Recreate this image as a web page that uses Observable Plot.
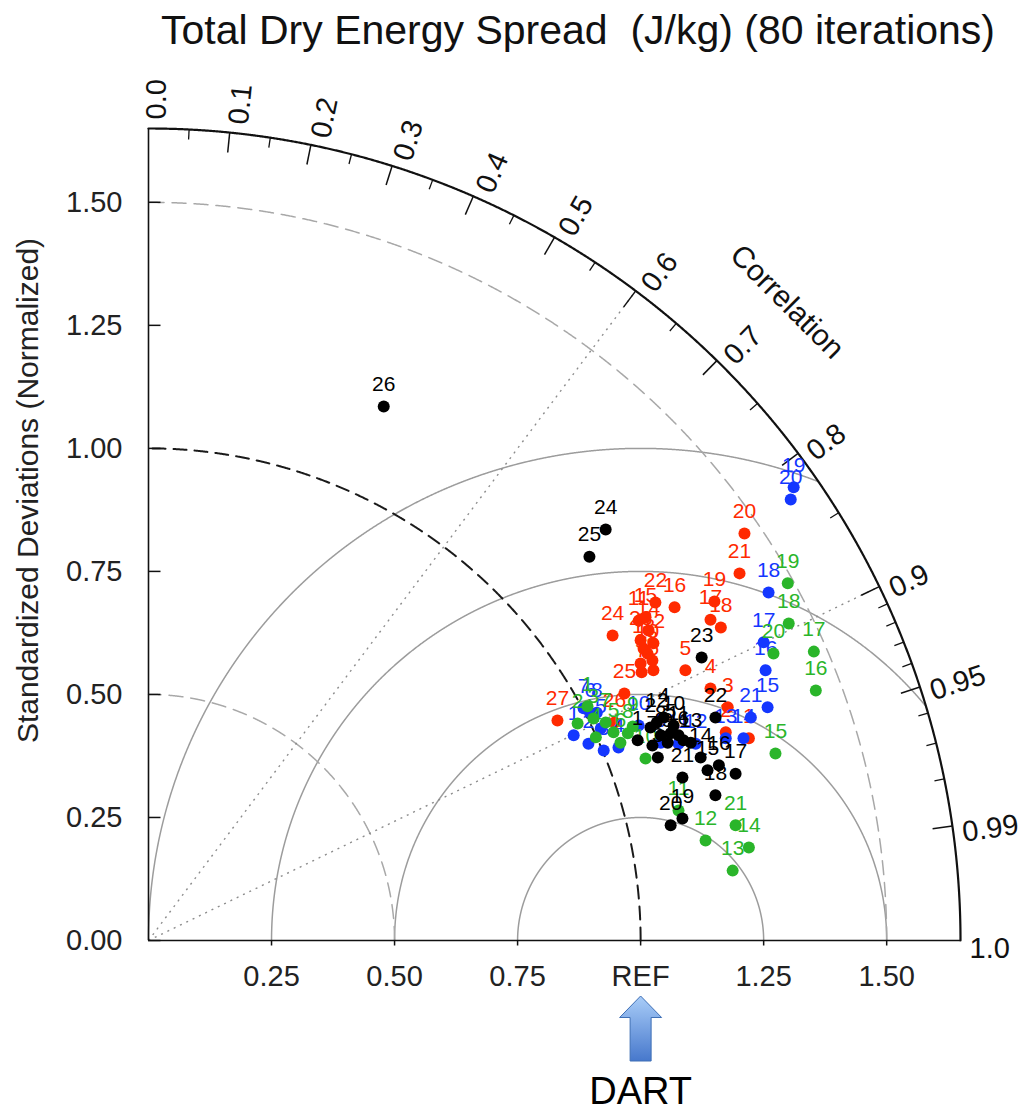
<!DOCTYPE html>
<html><head><meta charset="utf-8">
<script src="https://cdn.jsdelivr.net/npm/d3@7"></script>
<script src="https://cdn.jsdelivr.net/npm/@observablehq/plot@0.6"></script>
<style>
html,body{margin:0;padding:0;background:#fff;overflow:hidden;}
#title{height:60px;line-height:60px;font-family:"Liberation Sans",Arial,Helvetica,sans-serif;font-size:41px;color:#111;padding-left:161px;white-space:pre;}
#chart svg{display:block;}
</style></head><body>
<div id="title">Total Dry Energy Spread  (J/kg) (80 iterations)</div>
<div id="chart"></div>
<script>
// ---------- data (normalized std-dev components: x = σ·R, y = σ·√(1−R²)) ----------
const blackLabels = [1,2,3,4,5,6,7,8,9,10,11,12,13,14,15,16,17,18,19,20,21,22,23,24,25,26];
const blackX = [0.994,1.020,1.035,1.047,1.061,1.087,1.024,1.041,1.055,1.067,1.077,1.033,1.102,1.122,1.136,1.159,1.193,1.152,1.085,1.061,1.085,1.152,1.124,0.929,0.896,0.478];
const blackY = [0.407,0.433,0.372,0.453,0.421,0.407,0.396,0.417,0.402,0.437,0.417,0.443,0.402,0.372,0.346,0.356,0.339,0.295,0.248,0.234,0.331,0.453,0.575,0.835,0.780,1.085];

const redLabels = [1,2,3,4,5,6,7,8,9,10,11,12,13,14,15,16,17,18,19,20,21,22,23,24,25,26,27];
const redX = [1.220,1.173,1.177,1.142,1.091,1.026,1.002,1.024,1.000,1.014,0.996,1.026,1.006,1.016,1.010,1.069,1.142,1.163,1.150,1.211,1.201,1.030,1.000,0.943,0.967,0.947,0.831];
const redY = [0.411,0.423,0.474,0.512,0.549,0.549,0.545,0.569,0.563,0.583,0.650,0.604,0.593,0.630,0.657,0.677,0.652,0.636,0.689,0.827,0.746,0.687,0.610,0.620,0.502,0.443,0.447];

const blueLabels = [1,2,3,4,5,6,7,8,9,10,11,12,13,14,15,16,17,18,19,20,21];
const blueX = [0.864,0.894,0.925,0.955,0.919,0.898,0.884,0.911,1.041,0.996,1.077,1.112,1.173,1.209,1.258,1.254,1.250,1.260,1.311,1.305,1.224];
const blueY = [0.417,0.400,0.386,0.392,0.431,0.463,0.472,0.463,0.402,0.437,0.400,0.400,0.411,0.411,0.474,0.549,0.606,0.707,0.921,0.896,0.453];

const greenLabels = [1,2,3,4,5,6,7,8,9,10,11,12,13,14,15,16,17,18,19,20,21];
const greenX = [0.892,0.872,0.904,0.909,0.945,0.959,0.929,0.974,0.984,1.010,1.077,1.132,1.187,1.220,1.274,1.356,1.352,1.301,1.299,1.270,1.193];
const greenY = [0.476,0.441,0.451,0.413,0.423,0.402,0.443,0.421,0.435,0.370,0.264,0.203,0.142,0.189,0.380,0.508,0.587,0.644,0.726,0.583,0.234];

// ---------- axes / grid definitions ----------
const maxStd = 1.65;
const refValue = 1.0;
const yTicks = [0, 0.25, 0.5, 0.75, 1.0, 1.25, 1.5];
const xTicks = [0.25, 0.5, 0.75, 1.0, 1.25, 1.5];
const xTickLabels = ["0.25", "0.50", "0.75", "REF", "1.25", "1.50"];
const corrLabelValues = [0, 0.1, 0.2, 0.3, 0.4, 0.5, 0.6, 0.7, 0.8, 0.9, 0.95, 0.99, 1.0];
const corrLabels = ["0.0","0.1","0.2","0.3","0.4","0.5","0.6","0.7","0.8","0.9","0.95","0.99","1.0"];
const corrMajor = [0.1, 0.2, 0.3, 0.4, 0.5, 0.6, 0.7, 0.8, 0.9, 0.95, 0.99];
const corrMinor = [0.05, 0.15, 0.25, 0.35, 0.45, 0.55, 0.65, 0.75, 0.85, 0.91, 0.92, 0.93, 0.94, 0.96, 0.97, 0.98];
const stdArcs = [0.5, 1.0, 1.5];
const rmsArcs = [0.25, 0.5, 0.75, 1.0];
const corrRays = [0.6, 0.9];

const FONT = '"Liberation Sans", Arial, Helvetica, sans-serif';
const colors = {black: "#000000", red: "#ff2a00", blue: "#1437ff", green: "#2ab52a"};

const series = [
  {name: "red", labels: redLabels, x: redX, y: redY},
  {name: "blue", labels: blueLabels, x: blueX, y: blueY},
  {name: "green", labels: greenLabels, x: greenX, y: greenY},
  {name: "black", labels: blackLabels, x: blackX, y: blackY}
];

// ---------- geometry helpers ----------
const W = 1028, H = 1052;
const mL = 148, mR = 68, mT = 68, mB = 172;
const pxPerUnit = (W - mL - mR) / maxStd;
const px = (p) => p / pxPerUnit;
const sinOf = (c) => Math.sqrt(Math.max(0, 1 - c * c));

const outerPts = d3.range(0, 1201).map(i => {
  const a = i / 1200 * Math.PI / 2;
  return {x: maxStd * Math.cos(a), y: maxStd * Math.sin(a)};
});
const stdPts = stdArcs.flatMap(r => d3.range(0, 1201).map(i => {
  const a = i / 1200 * Math.PI / 2;
  return {r, x: r * Math.cos(a), y: r * Math.sin(a)};
}));
const rmsPts = rmsArcs.flatMap(r => d3.range(0, 3001).map(i => {
  const t = i / 3000 * Math.PI;
  return {r, x: refValue + r * Math.cos(t), y: r * Math.sin(t)};
}).filter(p => Math.hypot(p.x, p.y) <= maxStd));

const majorLen = px(20), minorLen = px(10), labelR = maxStd + px(9), labelShift = px(8);

const arrowSymbol = {
  draw(ctx, size) {
    const s = Math.sqrt(size / Math.PI);
    ctx.moveTo(0, -3.25 * s);
    ctx.lineTo(2.1 * s, -1.1 * s);
    ctx.lineTo(1.05 * s, -1.1 * s);
    ctx.lineTo(1.05 * s, 3.25 * s);
    ctx.lineTo(-1.05 * s, 3.25 * s);
    ctx.lineTo(-1.05 * s, -1.1 * s);
    ctx.lineTo(-2.1 * s, -1.1 * s);
    ctx.closePath();
  }
};

const pointMarks = series.flatMap(s => {
  const rows = s.labels.map((l, i) => ({label: String(l), x: s.x[i], y: s.y[i]}));
  return [
    Plot.dot(rows, {x: "x", y: "y", r: 6, fill: colors[s.name], stroke: "none"}),
    Plot.text(rows, {x: "x", y: "y", text: "label", dy: -22, fill: colors[s.name], fontSize: 21, fontFamily: FONT})
  ];
});

const chart = Plot.plot({
  width: W, height: H,
  marginLeft: mL, marginRight: mR, marginTop: mT, marginBottom: mB,
  x: {domain: [0, maxStd], axis: null},
  y: {domain: [0, maxStd], axis: null},
  style: {fontFamily: FONT, background: "white", overflow: "visible"},
  marks: [
    // centered RMS difference arcs
    Plot.line(rmsPts, {x: "x", y: "y", z: "r", stroke: "#9c9c9c", strokeWidth: 1.5}),
    // std-dev arcs
    Plot.line(stdPts.filter(d => d.r !== refValue), {x: "x", y: "y", z: "r", stroke: "#a8a8a8", strokeWidth: 1.5, strokeDasharray: "14,8"}),
    Plot.line(stdPts.filter(d => d.r === refValue), {x: "x", y: "y", z: "r", stroke: "#1a1a1a", strokeWidth: 2, strokeDasharray: "13,8"}),
    // correlation rays
    Plot.link(corrRays, {x1: 0, y1: 0, x2: c => maxStd * c, y2: c => maxStd * sinOf(c), stroke: "#8c8c8c", strokeWidth: 1.4, strokeDasharray: "2,5"}),
    // axis lines
    Plot.ruleX([0], {y1: 0, y2: maxStd, stroke: "#111", strokeWidth: 1.6}),
    Plot.ruleY([0], {x1: 0, x2: maxStd, stroke: "#111", strokeWidth: 1.6}),
    // outer arc
    Plot.line(outerPts, {x: "x", y: "y", stroke: "#111", strokeWidth: 2.2}),
    // correlation ticks
    Plot.link(corrMajor, {x1: c => maxStd * c, y1: c => maxStd * sinOf(c), x2: c => (maxStd - majorLen) * c, y2: c => (maxStd - majorLen) * sinOf(c), stroke: "#111", strokeWidth: 1.5}),
    Plot.link(corrMinor, {x1: c => maxStd * c, y1: c => maxStd * sinOf(c), x2: c => (maxStd - minorLen) * c, y2: c => (maxStd - minorLen) * sinOf(c), stroke: "#111", strokeWidth: 1.3}),
    // correlation labels
    Plot.text(corrLabelValues, {
      x: c => labelR * c + labelShift * sinOf(c),
      y: c => labelR * sinOf(c) - labelShift * c,
      text: (c, i) => corrLabels[i],
      rotate: c => -Math.acos(c) * 180 / Math.PI,
      textAnchor: "start", lineAnchor: "middle", fontSize: 29, fill: "#111"
    }),
    Plot.text(["Correlation"], {x: 1.835 * Math.SQRT1_2, y: 1.835 * Math.SQRT1_2, text: d => d, rotate: 45, fontSize: 30, fill: "#111"}),
    // y ticks & labels
    Plot.link(yTicks, {x1: 0, x2: px(12), y1: d => d, y2: d => d, stroke: "#111", strokeWidth: 1.5}),
    Plot.text(yTicks, {x: 0, y: d => d, text: d => d3.format(".2f")(d), textAnchor: "end", dx: -26, fontSize: 29, fill: "#222"}),
    Plot.text(["Standardized Deviations (Normalized)"], {frameAnchor: "left", text: d => d, rotate: -90, textAnchor: "middle", lineAnchor: "middle", dx: -120, dy: -44, fontSize: 30, fill: "#222"}),
    // x ticks & labels
    Plot.link(xTicks, {x1: d => d, x2: d => d, y1: 0, y2: -px(5), stroke: "#111", strokeWidth: 1.5}),
    Plot.text(xTicks, {x: d => d, y: 0, text: (d, i) => xTickLabels[i], dy: 36, fontSize: 29, fill: "#222"}),
    // data
    ...pointMarks,
    // DART annotation
    Plot.dot([refValue], {x: d => d, y: 0, dy: 88, r: 10, symbol: arrowSymbol, fill: "url(#dartGrad)", stroke: "#3f6fb5", strokeWidth: 1}),
    Plot.text(["DART"], {x: refValue, y: 0, text: d => d, dy: 151, fontSize: 38, fill: "#000"})
  ]
});

d3.select(chart).insert("defs", ":first-child").html(
  '<linearGradient id="dartGrad" x1="0" y1="0" x2="0" y2="1">' +
  '<stop offset="0" stop-color="#a9cdf8"/><stop offset="1" stop-color="#4778cc"/></linearGradient>'
);
document.getElementById("chart").appendChild(chart);
</script></body></html>
